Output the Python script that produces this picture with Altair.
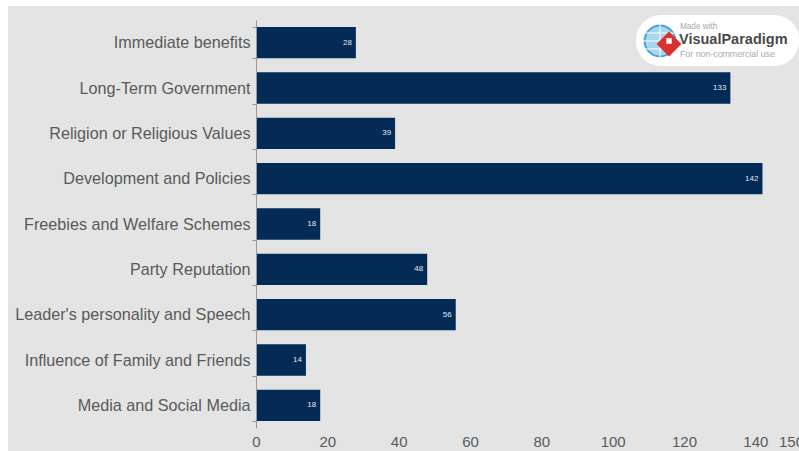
import altair as alt
import pandas as pd

factors = [
    "Immediate benefits",
    "Long-Term Government",
    "Religion or Religious Values",
    "Development and Policies",
    "Freebies and Welfare Schemes",
    "Party Reputation",
    "Leader's personality and Speech",
    "Influence of Family and Friends",
    "Media and Social Media",
]
counts = [28, 133, 39, 142, 18, 48, 56, 14, 18]
x_ticks = [0, 20, 40, 60, 80, 100, 120, 140, 150]

table = pd.DataFrame({"factor": factors, "count": counts})
one_row = alt.Data(values=[{}])

PLOT_W, PLOT_H = 535, 408
LEFT, TOP = 256, 20

y_enc = alt.Y(
    "factor:N",
    sort=factors,
    title=None,
    scale=alt.Scale(paddingInner=0.31, paddingOuter=0.155),
    axis=alt.Axis(
        tickBand="extent",
        tickSize=4,
        tickColor="#999999",
        domainColor="#999999",
        labelColor="#5a5a5a",
        labelFont="Liberation Sans",
        labelFontSize=16.2,
        labelPadding=2,
        labelLimit=260,
        grid=False,
        zindex=1,
    ),
)
x_enc = alt.X(
    "count:Q",
    title=None,
    scale=alt.Scale(domain=[0, 150], nice=False),
    axis=alt.Axis(
        values=x_ticks,
        domain=False,
        ticks=False,
        grid=False,
        labelColor="#5a5a5a",
        labelFont="Liberation Sans",
        labelFontSize=15,
        labelPadding=6,
        labelOverlap=False,
        labelFlush=False,
        labelBound=False,
        zindex=1,
    ),
)

# Grey panel behind everything, inset slightly from the page's top and left
panel = alt.Chart(one_row).mark_rect(color="#e4e4e4").encode(
    x=alt.value(8 - LEFT), x2=alt.value(799 - LEFT),
    y=alt.value(6 - TOP), y2=alt.value(451 - TOP),
)

bars = alt.Chart(table).mark_bar(color="#042a56").encode(y=y_enc, x=x_enc)

values = alt.Chart(table).mark_text(
    align="right", baseline="middle", dx=-4, color="#e4e8ee",
    font="Liberation Sans", fontSize=8,
).encode(y=y_enc, x=x_enc, text=alt.Text("count:Q"))

# Vendor badge in the top right corner
badge = alt.Chart(one_row).mark_rect(color="white", cornerRadius=25).encode(
    x=alt.value(636 - LEFT), x2=alt.value(799 - LEFT),
    y=alt.value(15 - TOP), y2=alt.value(66 - TOP),
)
globe = alt.Chart(one_row).mark_point(
    shape="circle", size=950, filled=True, fill="#a9d6ef", stroke="#4aa2d6", strokeWidth=2, opacity=1,
).encode(x=alt.value(660 - LEFT), y=alt.value(41 - TOP))


def globe_line(x1, x2, y1, y2):
    return alt.Chart(one_row).mark_rule(color="white", strokeWidth=1).encode(
        x=alt.value(x1 - LEFT), x2=alt.value(x2 - LEFT),
        y=alt.value(y1 - TOP), y2=alt.value(y2 - TOP),
    )


diamond = alt.Chart(one_row).mark_point(
    shape="diamond", size=620, filled=True, fill="#d9322e", opacity=1,
).encode(x=alt.value(669 - LEFT), y=alt.value(44 - TOP))
diamond_core = alt.Chart(one_row).mark_point(
    shape="square", size=30, filled=True, fill="white", opacity=1,
).encode(x=alt.value(669 - LEFT), y=alt.value(41 - TOP))


def badge_text(text, x, y, size, color, weight="normal"):
    return alt.Chart(one_row).mark_text(
        text=text, align="left", baseline="middle", font="Liberation Sans",
        fontSize=size, color=color, fontWeight=weight,
    ).encode(x=alt.value(x - LEFT), y=alt.value(y - TOP))


chart = alt.layer(
    panel,
    bars,
    values,
    badge,
    globe,
    globe_line(645, 675, 33, 33),
    globe_line(643, 677, 41, 41),
    globe_line(645, 675, 49, 49),
    globe_line(660, 660, 24, 58),
    diamond,
    diamond_core,
    badge_text("Made with", 680, 26.5, 8.2, "#aaaaaa"),
    badge_text("VisualParadigm", 679, 40, 14.5, "#4a4a4a", "bold"),
    badge_text("For non-commercial use", 680, 54, 8.8, "#aaaaaa"),
).properties(
    width=PLOT_W,
    height=PLOT_H,
    background="white",
    padding={"left": LEFT, "top": TOP, "right": 799 - LEFT - PLOT_W, "bottom": 451 - TOP - PLOT_H},
    autosize=alt.AutoSizeParams(type="none"),
).configure_view(stroke=None)

chart.save("out.html", embed_options={"renderer": "svg", "actions": False})
